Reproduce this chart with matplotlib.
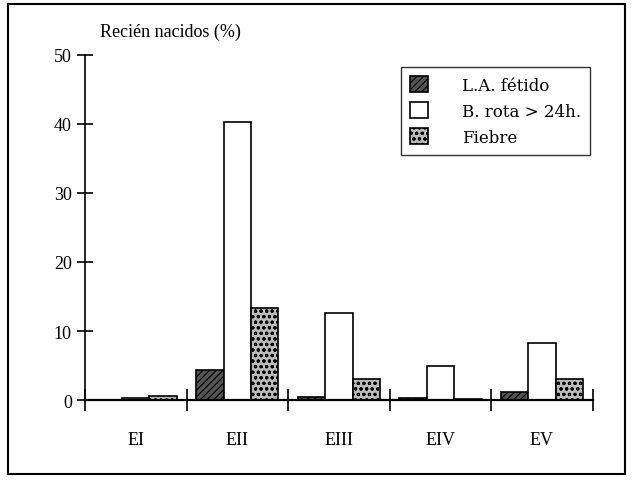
import numpy as np
import matplotlib.pyplot as plt
from matplotlib.patches import Rectangle

# data
groups = ["EI", "EII", "EIII", "EIV", "EV"]
la_fetido = [0.0, 4.4, 0.5, 0.3, 1.2]
b_rota = [0.3, 40.2, 12.6, 5.0, 8.2]
fiebre = [0.6, 13.4, 3.0, 0.2, 3.0]
series_names = ["L.A. fétido", "B. rota > 24h.", "Fiebre"]

plt.rcParams['font.family'] = ['Liberation Serif', 'DejaVu Serif']
plt.rcParams['hatch.linewidth'] = 0.8

fig = plt.figure(figsize=(6.34, 4.85), dpi=100)
ax = fig.add_axes([0.134, 0.173, 0.801, 0.712])

x = np.arange(len(groups)) + 0.5
w = 0.27
ax.bar(x - w, la_fetido, w, facecolor='#555555', edgecolor='black',
       hatch='/////', linewidth=1.2, label=series_names[0])
ax.bar(x, b_rota, w, facecolor='white', edgecolor='black',
       linewidth=1.2, label=series_names[1])
ax.bar(x + w, fiebre, w, facecolor='#bbbbbb', edgecolor='black',
       hatch='ooo', linewidth=1.2, label=series_names[2])

ax.set_xlim(0, len(groups))
ax.set_ylim(0, 50)
ax.set_yticks([0, 10, 20, 30, 40, 50])
ax.set_xticks(np.arange(len(groups) + 1))
ax.set_xticklabels([])
ax.set_xticks(x, minor=True)
ax.set_xticklabels(groups, minor=True)
ax.tick_params(axis='x', which='minor', length=0, pad=22, labelsize=13)
ax.tick_params(axis='x', which='major', direction='inout', length=16, width=1.2)
ax.tick_params(axis='y', direction='inout', length=12, width=1.2, labelsize=13)
ax.spines['top'].set_visible(False)
ax.spines['right'].set_visible(False)
ax.spines['left'].set_linewidth(1.2)
ax.spines['bottom'].set_linewidth(1.6)

fig.text(0.158, 0.933, "Recién nacidos (%)", fontsize=13, ha='left', va='center')

leg = ax.legend(loc='upper right', bbox_to_anchor=(0.994, 0.965),
                prop={'family': ['DejaVu Serif'], 'size': 12},
                frameon=True, fancybox=False, edgecolor='black',
                handlelength=1.1, handleheight=1.1, borderpad=0.55,
                handletextpad=2.0, labelspacing=0.5, borderaxespad=0)
leg.get_frame().set_linewidth(1.0)

fig.patches.append(Rectangle((0.013, 0.02), 0.973, 0.97, transform=fig.transFigure,
                             fill=False, edgecolor='black', linewidth=1.5))

fig.savefig("out.png", dpi=100)
